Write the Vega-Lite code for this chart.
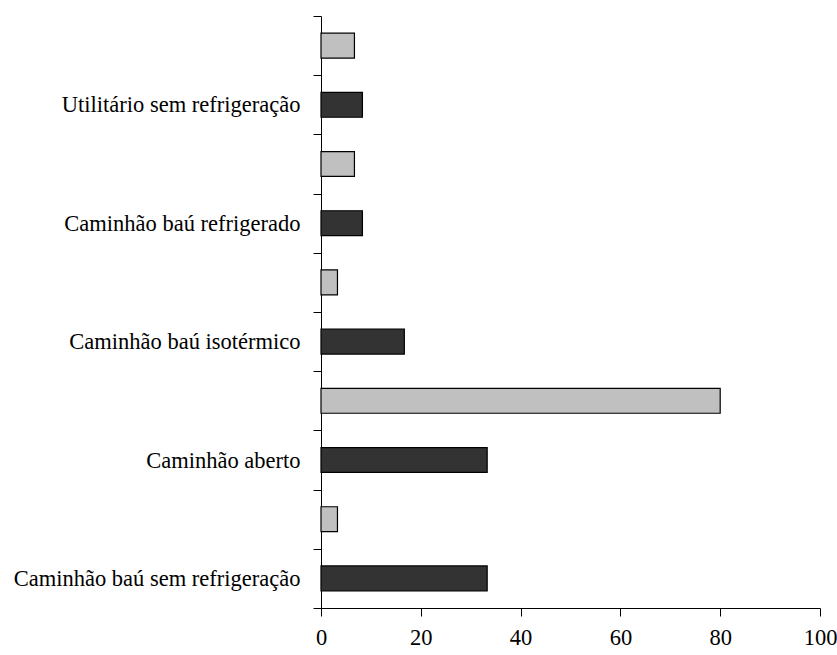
{
  "$schema": "https://vega.github.io/schema/vega-lite/v6.json",
  "width": 499,
  "height": 592,
  "autosize": "none",
  "padding": {"left": 321, "top": 16, "right": 17, "bottom": 47},
  "background": "white",
  "config": {"view": {"stroke": null}, "font": "Liberation Serif"},
  "data": {
    "values": [
      {"tipo": "_1", "grupo": "Série 2", "valor": 6.7},
      {"tipo": "Utilitário sem refrigeração", "grupo": "Série 1", "valor": 8.3},
      {"tipo": "_2", "grupo": "Série 2", "valor": 6.7},
      {"tipo": "Caminhão baú refrigerado", "grupo": "Série 1", "valor": 8.3},
      {"tipo": "_3", "grupo": "Série 2", "valor": 3.3},
      {"tipo": "Caminhão baú isotérmico", "grupo": "Série 1", "valor": 16.7},
      {"tipo": "_4", "grupo": "Série 2", "valor": 80},
      {"tipo": "Caminhão aberto", "grupo": "Série 1", "valor": 33.3},
      {"tipo": "_5", "grupo": "Série 2", "valor": 3.3},
      {"tipo": "Caminhão baú sem refrigeração", "grupo": "Série 1", "valor": 33.3}
    ]
  },
  "mark": {"type": "bar", "stroke": "#000000", "strokeWidth": 1.2, "height": {"band": 0.42}},
  "encoding": {
    "y": {
      "field": "tipo",
      "type": "nominal",
      "sort": null,
      "scale": {"paddingInner": 0, "paddingOuter": 0},
      "axis": {
        "title": null,
        "tickBand": "extent",
        "tickSize": 8,
        "tickColor": "#000000",
        "domainColor": "#000000",
        "labelPadding": 13,
        "labelFontSize": 22.5,
        "labelLimit": 0,
        "labelColor": "#000000",
        "labelExpr": "isString(datum.value) && indexof(datum.value, '_') == 0 ? '' : datum.label"
      }
    },
    "x": {
      "field": "valor",
      "type": "quantitative",
      "scale": {"domain": [0, 100], "nice": false},
      "axis": {
        "title": null,
        "grid": false,
        "values": [0, 20, 40, 60, 80, 100],
        "tickSize": 8,
        "tickColor": "#000000",
        "domainColor": "#000000",
        "labelPadding": 10,
        "labelFontSize": 22.5,
        "labelColor": "#000000",
        "labelFlush": false
      }
    },
    "color": {
      "field": "grupo",
      "type": "nominal",
      "scale": {"domain": ["Série 2", "Série 1"], "range": ["#c0c0c0", "#333333"]},
      "legend": null
    }
  }
}
